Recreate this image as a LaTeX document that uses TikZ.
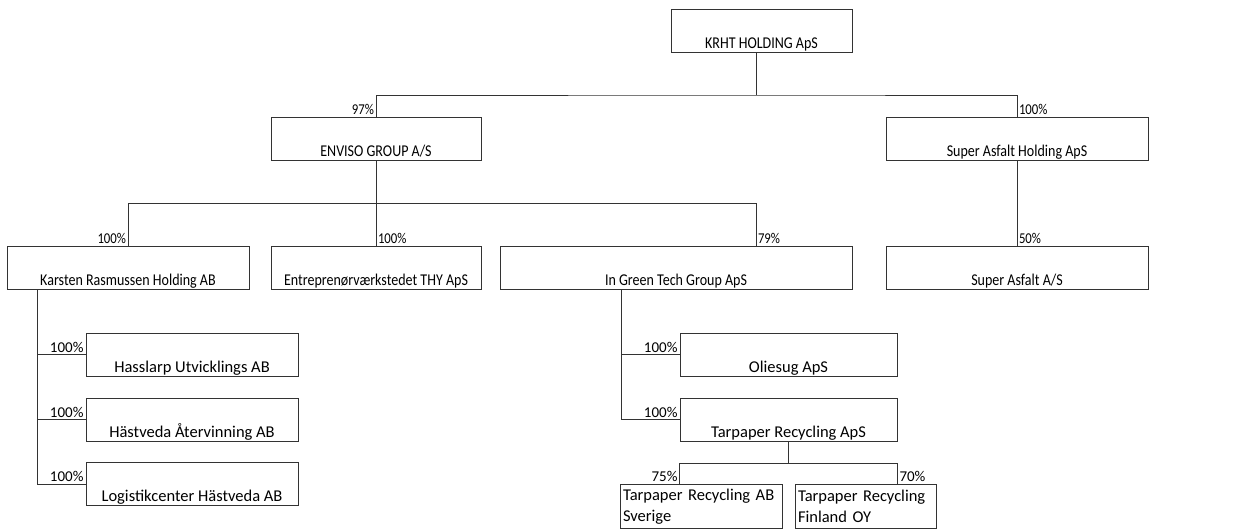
\documentclass[tikz,border=0pt]{standalone}
\usepackage{fontspec}
\setmainfont{Carlito}
\newfontfamily\narrowfont{Carlito}[FakeStretch=0.85]
\begin{document}
	\begin{tikzpicture}[x=1pt, y=-1pt, line width=1pt, draw=black!80,
		firm/.style={draw, rectangle, inner sep=0pt, minimum height=43pt, text height=39pt, text depth=4pt, font=\narrowfont\fontsize{16.5}{20}\selectfont},
		subfirm/.style={firm, font=\normalfont\fontsize{16.5}{20}\selectfont},
		twoline/.style={draw, rectangle, inner sep=3pt, minimum height=44pt, align=left, anchor=north, font=\fontsize{16.5}{21}\selectfont},
		pct/.style={inner sep=1.5pt, font=\narrowfont\fontsize{15}{18}\selectfont},
		subpct/.style={pct, font=\normalfont\fontsize{15}{18}\selectfont}]
		\useasboundingbox (0,0) rectangle (1252,531);

		\node [firm, minimum width=181pt] (krht) at (761.5,30.5) {KRHT HOLDING ApS};
		\node [firm, minimum width=210pt] (enviso) at (376,138.5) {ENVISO GROUP A/S};
		\node [firm, minimum width=262pt] (suph) at (1017,138.5) {Super Asfalt Holding ApS};

		\node [firm, minimum width=242pt] (karsten) at (128,268) {Karsten Rasmussen Holding AB};
		\node [firm, minimum width=210pt] (entre) at (376,268) {Entreprenørværkstedet THY ApS};
		\node [firm, minimum width=352pt] (igt) at (676,268) {In Green Tech Group ApS};
		\node [firm, minimum width=262pt] (sa) at (1017,268) {Super Asfalt A/S};

		\node [subfirm, minimum width=212pt] (hass) at (192,354.5) {Hasslarp Utvicklings AB};
		\node [subfirm, minimum width=212pt] (hast) at (192,419.5) {Hästveda Återvinning AB};
		\node [subfirm, minimum width=212pt] (logi) at (192,484) {Logistikcenter Hästveda AB};

		\node [subfirm, minimum width=217pt] (oli) at (788.5,354.5) {Oliesug ApS};
		\node [subfirm, minimum width=217pt] (tarp) at (788.5,419.5) {Tarpaper Recycling ApS};

		\node [twoline, text width=156pt] (tarab) at (701,484) {Tarpaper Recycling AB\\Sverige};
		\node [twoline, text width=135pt] (tarfi) at (865.5,484) {Tarpaper Recycling\\Finland OY};

		\coordinate (top) at (756,95);
		\draw (krht.south -| top) -- (top);
		\draw (enviso.north) node [pct, above left] {97\%} |- (top) -| (suph.north) node [pct, above right] {100\%};

		\draw (enviso.south) -- ++(0,43) coordinate (mid);
		\draw (karsten.north) node [pct, above left] {100\%} |- (mid) -| (igt.north -| top) node [pct, above right] {79\%};
		\draw (mid) -- (entre.north) node [pct, above right] {100\%};
		\draw (suph.south) -- (sa.north) node [pct, above right] {50\%};

		\coordinate (kx) at (37,289);
		\foreach \firm in {hass,hast,logi}
			\draw (kx) |- (\firm.west) node [subpct, above left] {100\%};

		\coordinate (gx) at (621,289);
		\foreach \firm in {oli,tarp}
			\draw (gx) |- (\firm.west) node [subpct, above left] {100\%};

		\draw (tarp.south) -- ++(0,22) coordinate (tbus);
		\draw (tarab.north -| oli.west) node [subpct, above left] {75\%} |- (tbus) -| (tarfi.north -| oli.east) node [subpct, above right] {70\%};

	\end{tikzpicture}
\end{document}
